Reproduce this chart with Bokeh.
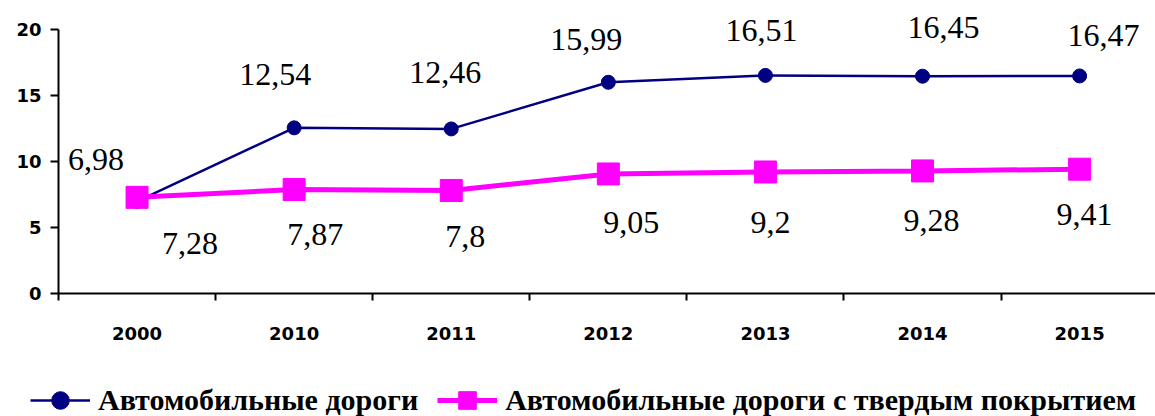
from bokeh.plotting import figure
from bokeh.layouts import column
from bokeh.models import FixedTicker, ColumnDataSource, Legend, LegendItem
from bokeh.core.properties import value
from bokeh.embed import file_html
from bokeh.resources import INLINE

years = ["2000", "2010", "2011", "2012", "2013", "2014", "2015"]
roads = [6.98, 12.54, 12.46, 15.99, 16.51, 16.45, 16.47]
paved = [7.28, 7.87, 7.8, 9.05, 9.2, 9.28, 9.41]
series_names = ["Автомобильные дороги", "Автомобильные дороги с твердым покрытием"]

# label placement offsets in screen px (style)
roads_dx = [-41, -19, -6, -22, -4, 21, 24]
roads_dy = [-42, -53, -56, -43, -45, -49, -40]
paved_dx = [53, 21, 14, 23, 5, 9, 5]
paved_dy = [46, 45, 46, 49, 51, 50, 45]

NAVY = "#000080"
MAGENTA = "#FF00FF"

xs = [i + 0.5 for i in range(len(years))]
fmt = lambda v: str(v).replace(".", ",")

src_r = ColumnDataSource(dict(x=xs, y=roads, t=[fmt(v) for v in roads], dx=roads_dx, dy=roads_dy))
src_p = ColumnDataSource(dict(x=xs, y=paved, t=[fmt(v) for v in paved], dx=paved_dx, dy=paved_dy))

p = figure(width=1155, height=360, output_backend="svg", toolbar_location=None,
           x_range=(0, 6.983), y_range=(0, 21.5),
           min_border_left=58, min_border_right=0, min_border_top=9, min_border_bottom=67)
p.outline_line_color = None
p.xgrid.visible = False
p.ygrid.visible = False

p.line("x", "y", source=src_r, line_color=NAVY, line_width=2.5)
p.scatter("x", "y", source=src_r, marker="circle", size=14, fill_color=NAVY, line_color=NAVY)
p.line("x", "y", source=src_p, line_color=MAGENTA, line_width=5)
p.scatter("x", "y", source=src_p, marker="square", size=22, fill_color=MAGENTA, line_color=MAGENTA)

for s in (src_r, src_p):
    p.text("x", "y", text="t", source=s, x_offset="dx", y_offset="dy",
           text_font=value("Liberation Serif"), text_font_size="32px",
           text_align="center", text_baseline="alphabetic", text_color="black")

# x axis: labels at category centres, ticks at category boundaries
p.xaxis.ticker = FixedTicker(ticks=xs, minor_ticks=list(range(len(years) + 1)))
p.xaxis.major_label_overrides = {x: y for x, y in zip(xs, years)}
p.xaxis.major_tick_out = 0
p.xaxis.major_tick_in = 0
p.xaxis.minor_tick_out = 7
p.xaxis.minor_tick_in = 0
p.xaxis.minor_tick_line_width = 2
p.xaxis.minor_tick_line_color = "black"
p.xaxis.axis_line_width = 2
p.xaxis.major_label_standoff = 26
p.xaxis.major_label_text_font = "DejaVu Sans"
p.xaxis.major_label_text_font_style = "bold"
p.xaxis.major_label_text_font_size = "18px"
p.xaxis.major_label_text_color = "black"

p.yaxis.ticker = FixedTicker(ticks=[0, 5, 10, 15, 20], minor_ticks=[])
p.yaxis.bounds = (0, 20)
p.yaxis.major_tick_out = 8
p.yaxis.major_tick_in = 0
p.yaxis.major_tick_line_width = 2
p.yaxis.axis_line_width = 2
p.yaxis.major_label_standoff = 9
p.yaxis.major_label_text_font = "DejaVu Sans"
p.yaxis.major_label_text_font_style = "bold"
p.yaxis.major_label_text_font_size = "18px"
p.yaxis.major_label_text_color = "black"

# legend strip below the chart (its glyphs use the same series, kept out of view)
lf = figure(width=1155, height=56, output_backend="svg", toolbar_location=None,
            x_range=(0, 6.983), y_range=(100, 101),
            x_axis_location=None, y_axis_location=None,
            min_border_left=0, min_border_right=0, min_border_top=0, min_border_bottom=0)
lf.outline_line_color = None
lf.xgrid.visible = False
lf.ygrid.visible = False
for fig in (p, lf):
    if "frame_align" in fig.properties():
        fig.frame_align = False

g1 = lf.line("x", "y", source=src_r, line_color=NAVY, line_width=2.5)
g2 = lf.scatter("x", "y", source=src_r, marker="circle", fill_color=NAVY, line_color=NAVY)
g3 = lf.line("x", "y", source=src_p, line_color=MAGENTA, line_width=5)
g4 = lf.scatter("x", "y", source=src_p, marker="square", fill_color=MAGENTA, line_color=MAGENTA)

legend = Legend(items=[LegendItem(label=series_names[0], renderers=[g1, g2]),
                       LegendItem(label=series_names[1], renderers=[g3, g4])],
                orientation="horizontal", location=(30, -6),
                glyph_width=60, glyph_height=44, label_standoff=8, spacing=19,
                padding=0, margin=0, border_line_color=None, background_fill_alpha=0,
                label_text_font="Liberation Serif", label_text_font_style="bold",
                label_text_font_size="30px", label_text_color="black")
lf.add_layout(legend, "center")

layout = column(p, lf, spacing=0)
open("out.html", "w").write(file_html(layout, INLINE))
